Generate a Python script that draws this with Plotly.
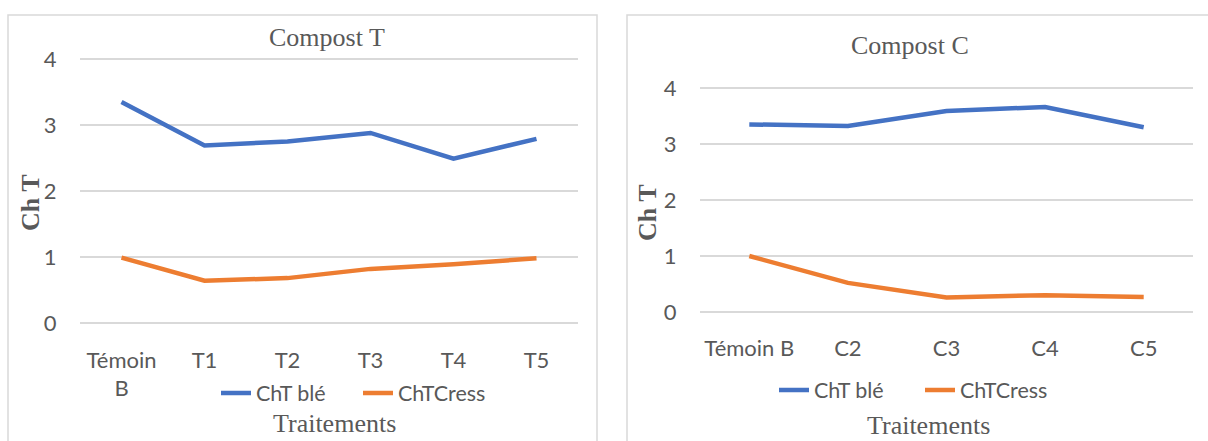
import plotly.graph_objects as go

# Compost T panel
cats_t = ["Témoin B", "T1", "T2", "T3", "T4", "T5"]
ticks_t = ["Témoin<br>B", "T1", "T2", "T3", "T4", "T5"]
ble_t = [3.35, 2.69, 2.75, 2.88, 2.49, 2.79]
cress_t = [0.99, 0.64, 0.68, 0.82, 0.89, 0.98]

# Compost C panel
cats_c = ["Témoin B", "C2", "C3", "C4", "C5"]
ble_c = [3.35, 3.32, 3.59, 3.66, 3.30]
cress_c = [1.00, 0.52, 0.26, 0.30, 0.27]

y_ticks = [0, 1, 2, 3, 4]

BLUE = "#4472C4"
ORANGE = "#ED7D31"
GRID = "#D9D9D9"
TXT = "#595959"
SANS = "Lato, Carlito, Calibri, sans-serif"
SERIF = "Liberation Serif, Times New Roman, serif"

W, H = 1208, 441

fig = go.Figure()

fig.add_trace(go.Scatter(x=cats_t, y=ble_t, name="ChT blé", mode="lines",
                         line=dict(color=BLUE, width=4.5), xaxis="x", yaxis="y",
                         legend="legend"))
fig.add_trace(go.Scatter(x=cats_t, y=cress_t, name="ChTCress", mode="lines",
                         line=dict(color=ORANGE, width=4.5), xaxis="x", yaxis="y",
                         legend="legend"))
fig.add_trace(go.Scatter(x=cats_c, y=ble_c, name="ChT blé", mode="lines",
                         line=dict(color=BLUE, width=4.5), xaxis="x2", yaxis="y2",
                         legend="legend2"))
fig.add_trace(go.Scatter(x=cats_c, y=cress_c, name="ChTCress", mode="lines",
                         line=dict(color=ORANGE, width=4.5), xaxis="x2", yaxis="y2",
                         legend="legend2"))


def xaxis(domain, cats, labels):
    return dict(domain=domain, type="category", range=[-0.5, len(cats) - 0.5],
                tickmode="array", tickvals=cats, ticktext=labels,
                showgrid=False, zeroline=False, showline=False,
                ticks="outside", ticklen=14, tickcolor="rgba(0,0,0,0)",
                tickfont=dict(family=SANS, size=22, color=TXT), fixedrange=True,
                automargin=False)


def yaxis(domain, anchor):
    return dict(domain=domain, anchor=anchor, range=[-0.05, 4.05],
                tickmode="array", tickvals=y_ticks,
                showgrid=True, gridcolor=GRID, gridwidth=1.5, zeroline=False,
                showline=False, ticks="outside", ticklen=18,
                tickcolor="rgba(0,0,0,0)",
                tickfont=dict(family=SANS, size=22, color=TXT), fixedrange=True,
                automargin=False)


def px(x):
    return x / W


def py(y):
    return 1 - y / H


layout = dict(
    width=W, height=H,
    margin=dict(l=0, r=0, t=0, b=0, pad=0, autoexpand=False),
    paper_bgcolor="white", plot_bgcolor="white",
    xaxis=dict(xaxis([px(80), px(578)], cats_t, ticks_t), anchor="y"),
    yaxis=yaxis([py(326.3), py(55.7)], "x"),
    xaxis2=dict(xaxis([px(700), px(1193)], cats_c, cats_c), anchor="y2"),
    yaxis2=yaxis([py(314.8), py(85.2)], "x2"),
    legend=dict(orientation="h", x=px(216), y=py(393), xanchor="left",
                yanchor="middle", font=dict(family=SANS, size=21.5, color=TXT),
                entrywidth=97, entrywidthmode="pixels",
                bgcolor="rgba(0,0,0,0)", itemclick=False),
    legend2=dict(orientation="h", x=px(774), y=py(390), xanchor="left",
                 yanchor="middle", font=dict(family=SANS, size=21.5, color=TXT),
                 entrywidth=101, entrywidthmode="pixels",
                 bgcolor="rgba(0,0,0,0)", itemclick=False),
    showlegend=True,
)
fig.update_layout(**layout)

# Chart frames
fig.add_shape(type="rect", xref="paper", yref="paper",
              x0=px(8), x1=px(597), y0=py(460), y1=py(15),
              line=dict(color=GRID, width=1.5), fillcolor="rgba(0,0,0,0)", layer="below")
fig.add_shape(type="rect", xref="paper", yref="paper",
              x0=px(627), x1=px(1220), y0=py(460), y1=py(15),
              line=dict(color=GRID, width=1.5), fillcolor="rgba(0,0,0,0)", layer="below")

# Titles
texts = [
    ("Compost T", 327, 37, SERIF, 26, 0),
    ("Compost C", 910, 45, SERIF, 26, 0),
    ("Traitements", 334, 423, SERIF, 26, 0),
    ("Traitements", 928, 425, SERIF, 26, 0),
    ("<b>Ch T</b>", 31, 203, SERIF, 26, -90),
    ("<b>Ch T</b>", 647, 213, SERIF, 26, -90),
]
for t, x, y, fam, size, ang in texts:
    fig.add_annotation(text=t, xref="paper", yref="paper", x=px(x), y=py(y),
                       xanchor="center", yanchor="middle", showarrow=False,
                       textangle=ang, font=dict(family=fam, size=size, color=TXT))

fig.write_html("out.html")
